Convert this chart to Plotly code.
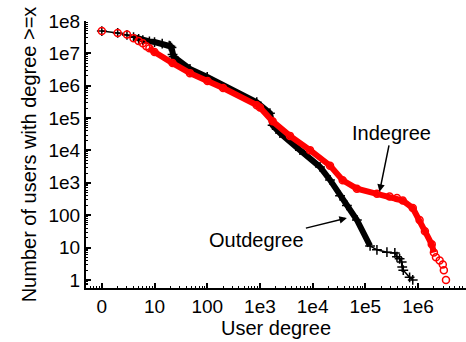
import numpy as np
import plotly.graph_objects as go

# Indegree (red) : degree, number of users with degree >= x
in_deg = [0, 1, 2, 3, 4, 5, 6, 7, 9, 21, 46, 100, 199, 870, 1000, 1740, 3715, 8912,
          21380, 37154, 69183, 165959, 288403, 398107, 512861, 794000, 1070000, 1350000,
          1820000, 2000000, 2190000, 2570000, 2950000, 3090000, 3390000]
in_cnt = [4.9e7, 4.27e7, 3.8e7, 2.95e7, 2.4e7, 2.04e7, 1.66e7, 1.45e7, 1.1e7, 5.0e6,
          2.45e6, 1.41e6, 8.5e5, 2.51e5, 2.14e5, 7.94e4, 2.82e4, 10230, 3390, 1200, 661,
          457, 380, 339, 282, 166, 71, 32, 12.6, 7, 5, 4, 3, 2, 1]

# Outdegree (black)
out_deg = [0, 1, 2, 3, 4, 5, 7, 9, 13, 18, 19, 20, 21, 22, 46, 99, 870, 1548, 1737,
           2399, 5754, 13804, 21380, 33113, 44668, 69183, 123027, 166000, 257000, 363000,
           398000, 447000, 490000, 501000, 525000, 692000, 794000]
out_cnt = [4.9e7, 4.27e7, 3.7e7, 3.16e7, 2.82e7, 2.57e7, 2.34e7, 2.24e7, 2.0e7, 1.74e7,
           1.66e7, 1.51e7, 9.3e6, 7.9e6, 3.31e6, 1.86e6, 3.09e5, 1.41e5, 6.03e4, 34670,
           10230, 3090, 1230, 398, 200, 71, 11.2, 8.5, 7.2, 6.8, 5.2, 4.5, 3.6, 2.5, 2.0,
           1.2, 1]

x_tickvals = [1, 10, 100, 1e3, 1e4, 1e5, 1e6]
x_ticktext = ["0", "10", "100", "1e3", "1e4", "1e5", "1e6"]
y_tickvals = [1, 10, 100, 1e3, 1e4, 1e5, 1e6, 1e7, 1e8]
y_ticktext = ["1", "10", "100", "1e3", "1e4", "1e5", "1e6", "1e7", "1e8"]

in_x = [d + 1 for d in in_deg]
out_x = [d + 1 for d in out_deg]

FONT = "Liberation Sans, Arial, sans-serif"
fig = go.Figure()

# outdegree: dense band + thin line with crosses
fig.add_trace(go.Scatter(x=out_x[3:27], y=out_cnt[3:27], mode="lines",
                         line=dict(color="black", width=6), hoverinfo="skip"))
fig.add_trace(go.Scatter(x=out_x, y=out_cnt, mode="lines+markers",
                         line=dict(color="black", width=1.5),
                         marker=dict(symbol="cross-thin", size=7, color="black",
                                     line=dict(color="black", width=1.5))))
# indegree: dense band + open circles
fig.add_trace(go.Scatter(x=in_x[7:30], y=in_cnt[7:30], mode="lines",
                         line=dict(color="red", width=6), hoverinfo="skip"))
fig.add_trace(go.Scatter(x=in_x, y=in_cnt, mode="markers",
                         marker=dict(symbol="circle-open", size=7, color="red",
                                     line=dict(color="red", width=1.5))))

fig.add_annotation(x=np.log10(186000), y=np.log10(525), text="Indegree",
                   showarrow=True, ax=12, ay=-59, arrowhead=2, arrowsize=1,
                   arrowwidth=1.5, arrowcolor="black",
                   font=dict(family=FONT, size=20, color="black"))
fig.add_annotation(x=4.65, y=1.91, text="Outdegree",
                   showarrow=True, ax=-90, ay=22, arrowhead=2, arrowsize=1,
                   arrowwidth=1.5, arrowcolor="black",
                   font=dict(family=FONT, size=20, color="black"))

axis_common = dict(showline=True, linecolor="black", linewidth=2, showgrid=False,
                   zeroline=False, ticks="inside", ticklen=5, tickwidth=1.5,
                   tickcolor="black", tickfont=dict(family=FONT, size=19, color="black"),
                   automargin=False,
                   minor=dict(ticks="inside", ticklen=2, tickcolor="black",
                              tickwidth=1, dtick="D1", showgrid=False))

fig.update_xaxes(type="log", range=[-0.3, 6.91], tickvals=x_tickvals,
                 ticktext=x_ticktext,
                 title=dict(text="User degree", font=dict(family=FONT, size=20, color="black"),
                            standoff=4),
                 **axis_common)
fig.update_yaxes(type="log", range=[-0.25, 8.0], tickvals=y_tickvals,
                 ticktext=y_ticktext,
                 title=dict(text="Number of users with degree >=x",
                            font=dict(family=FONT, size=20, color="black"), standoff=6),
                 **axis_common)

fig.update_layout(width=466, height=342, showlegend=False,
                  margin=dict(l=86, r=0, t=21, b=54, autoexpand=False),
                  paper_bgcolor="white", plot_bgcolor="white")

fig.write_html("out.html", config={"displayModeBar": False},
               post_script="document.body.style.margin='0';document.body.style.padding='0';")
